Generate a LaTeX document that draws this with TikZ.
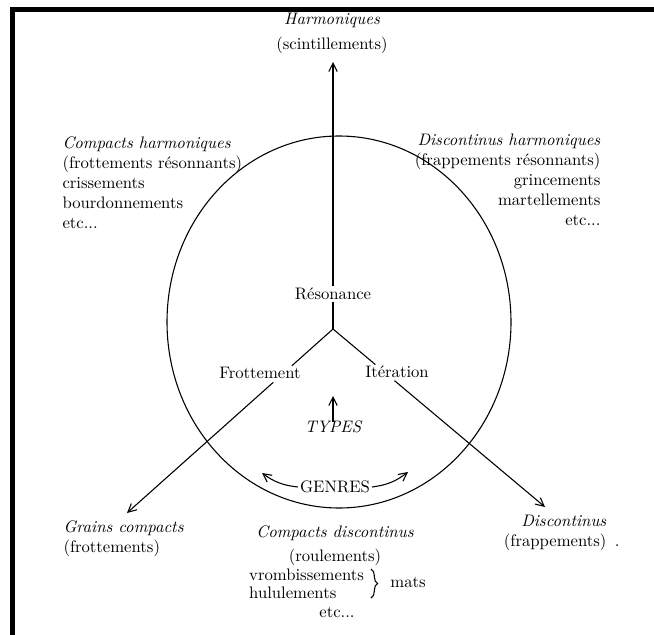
\documentclass[tikz,border=0pt]{standalone}
\usetikzlibrary{positioning,calc,arrows.meta,decorations.pathreplacing}

\begin{document}
\begin{tikzpicture}[x=0.6pt,y=-0.6pt,line width=0.65pt,
	lab/.style={inner sep=1pt},
	ttl/.style={inner sep=1pt,font=\itshape},
	blk/.style={inner sep=0pt},
	>={Straight Barb[length=5pt,width=5pt]}]
\useasboundingbox (0,0) rectangle (654,635);
% frame of the scan
\draw[line width=3pt] (12.5,635) -- (12.5,9.5) -- (654,9.5);

\draw (339,322) ellipse [x radius=172,y radius=186];

\node[ttl] (harm) at (332,20) {Harmoniques};
\node[lab] (scint) at (332,45) {(scintillements)};
\coordinate (htip) at (333,62);
\node[lab] (reso) at (333,294) {Résonance};
\coordinate (jn) at (333,329);
\draw[->] (reso.north) -- (htip);
\draw (reso.south) -- (jn);

\node[lab] (frot) at (260,373) {Frottement};
\node[lab] (iter) at (397,372) {Itération};
\coordinate (gtip) at (127,513);
\coordinate (dtip) at (545,507);
\draw (jn) -- ($(jn)!0.2!(gtip)$);
\draw[->] ($(jn)!0.29!(gtip)$) -- (gtip);
\draw (jn) -- ($(jn)!0.2!(dtip)$);
\draw[->] ($(jn)!0.29!(dtip)$) -- (dtip);

\node[ttl] (types) at (333,427) {TYPES};
\coordinate (ttip) at (333,396);
\draw[->] ([yshift=-2pt]types.north) -- (ttip);

\node[lab] (genres) at (335,487) {GENRES};
\coordinate (gl) at (262,473);
\coordinate (gr) at (408,472);
\draw[->] (genres.west) to[bend left=15] (gl);
\draw[->] (genres.east) to[bend right=15] (gr);

% the four corners
\node[blk,anchor=north west,align=left] (ch) at (62,136)
	{\textit{Compacts harmoniques}\\(frottements résonnants)\\crissements\\bourdonnements\\etc...};
\node[blk,anchor=north east,align=right] (dh) at (601,133)
	{\textit{Discontinus harmoniques}\\(frappements résonnants)\\grincements\\martellements\\etc...};
\node[blk,anchor=north west,align=left] (gc) at (63,520)
	{\textit{Grains compacts}\\(frottements)};
\node[blk,anchor=north east,align=right] (dc) at (607,515)
	{\textit{Discontinus}\\(frappements)\rlap{\hspace{5pt}.}};

% bottom
\node[ttl] (cd) at (335,533) {Compacts discontinus};
\node[lab] (roul) at (335,557) {(roulements)};
\node[lab,anchor=west] (vromb) at (247,575) {vrombissements};
\node[lab,anchor=west] (hulul) at (247,593) {hululements};
\draw[decorate,decoration={brace,amplitude=4pt}] (371,569) -- (371,598);
\node[lab] (mats) at (408,582) {mats};
\node[lab] (etc) at (337,612) {etc...};
\end{tikzpicture}
\end{document}
